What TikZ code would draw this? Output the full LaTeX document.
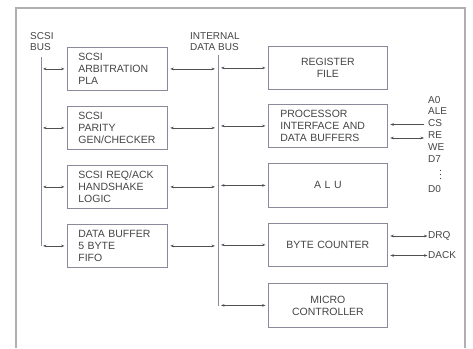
\documentclass[tikz,border=0pt]{standalone}
\usepackage{fontspec}
\setmainfont{Liberation Sans}
\usetikzlibrary{arrows.meta}
\definecolor{txt}{HTML}{454545}
\definecolor{boxc}{HTML}{8A8A9A}
\definecolor{framec}{HTML}{B0B0B0}
\definecolor{linec}{HTML}{505050}
\begin{document}
\begin{tikzpicture}[x=1pt,y=-1pt,
  blk/.style={draw=boxc, line width=0.8pt, minimum width=100pt, minimum height=43pt,
    inner ysep=0pt, anchor=north west, font=\fontsize{10.5}{12}\selectfont, text=txt},
  lblk/.style={blk, text width=78pt, inner xsep=11pt, align=left},
  rblk/.style={blk, minimum width=119pt, text width=97pt, inner xsep=11pt, align=center},
  lab/.style={font=\fontsize{10}{11.8}\selectfont, text=txt, inner sep=0pt},
  arr/.style={draw=linec, line width=0.7pt, {Stealth[length=3.5pt,width=2.6pt]}-{Stealth[length=3.5pt,width=2.6pt]}},
  arrl/.style={draw=linec, line width=0.7pt, -{Stealth[length=3.5pt,width=2.6pt]}},
  bus/.style={draw=boxc, line width=0.7pt},
  frame/.style={draw=framec, line width=1.1pt}]
\useasboundingbox (0,0) rectangle (473,348);
\fill[white] (0,0) rectangle (473,348);
% frame
\draw[frame] (16,348) -- (16,8) -- (465,8) -- (465,348);
% bus labels
\node[lab, anchor=north west, align=left] (sbuslab) at (30,32) {SCSI\\BUS};
\node[lab, anchor=north west, align=left] (ibuslab) at (190,32) {INTERNAL\\DATA BUS};
% left blocks
\node[lblk] (arb) at (67,47) {SCSI\\ARBITRATION\\PLA};
\node[lblk] (par) at (67,106) {SCSI\\PARITY\\GEN/CHECKER};
\node[lblk] (hs) at (67,165) {SCSI REQ/ACK\\HANDSHAKE\\LOGIC};
\node[lblk] (fifo) at (67,224) {DATA BUFFER\\5 BYTE\\FIFO};
% right blocks
\node[rblk] (reg) at (268,46) {REGISTER\\FILE};
\node[rblk, align=left, inner xsep=12pt, text width=95pt] (proc) at (268,104) {PROCESSOR\\INTERFACE AND\\DATA BUFFERS};
\node[rblk, minimum height=44pt] (alu) at (268,163) {A L U};
\node[rblk] (bc) at (268,223) {BYTE COUNTER};
\node[rblk, minimum height=44pt] (mc) at (268,283) {MICRO\\CONTROLLER};
% buses
\coordinate (sbtop) at (41,57);
\coordinate (sbbot) at (41,246);
\coordinate (ibtop) at (218,55);
\coordinate (ibbot) at (218,305.5);
\draw[bus] (sbtop) -- (sbbot);
\draw[bus] (ibtop) -- (ibbot);
% SCSI bus to left blocks
\foreach \b in {arb,par,hs,fifo}{
  \draw[arr, shorten <=2pt, shorten >=2.5pt] (\b.west -| sbtop) -- (\b.west);
  \draw[arr, shorten <=2.5pt, shorten >=3pt] (\b.east) -- (\b.east -| ibtop);
}
% internal bus to right blocks
\foreach \b in {reg,proc,alu,bc,mc}{
  \draw[arr, shorten <=3pt, shorten >=2.5pt] (\b.west -| ibtop) -- (\b.west);
}
% processor signals
\node[lab, anchor=north west, align=left] (sigs) at (428,96) {A0\\ALE\\CS\\RE\\WE\\D7};
\foreach \yy in {170.5,174.5,178.5}{\fill[txt] (440.5,\yy) circle (0.55pt);}
\node[lab, anchor=north west] (d0) at (428,185) {D0};
\coordinate (cs) at (424,124.5);
\coordinate (re) at (424,138);
\draw[arrl, shorten >=2.5pt] (cs) -- (cs -| proc.east);
\draw[arr, shorten <=2.5pt] (re -| proc.east) -- (re);
% byte counter signals
\node[lab, anchor=west] (drq) at (428,236) {DRQ};
\node[lab, anchor=west] (dack) at (428,255.5) {DACK};
\draw[arr, shorten <=2.5pt, shorten >=0.5pt] (drq.west -| bc.east) -- (drq.west);
\draw[arr, shorten <=2.5pt, shorten >=0.5pt] (dack.west -| bc.east) -- (dack.west);
\end{tikzpicture}
\end{document}
